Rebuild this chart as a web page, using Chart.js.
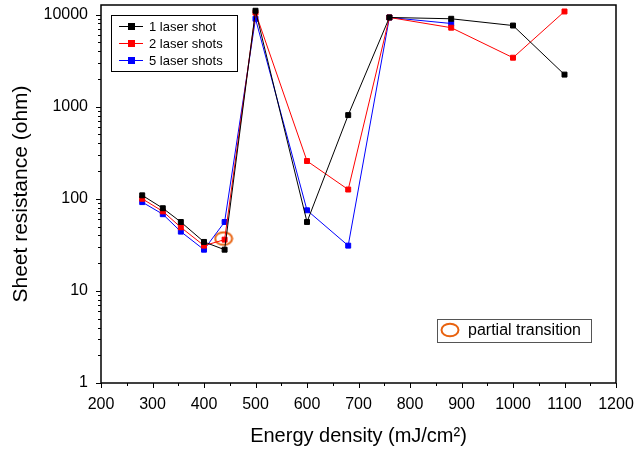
<!DOCTYPE html>
<html>
<head>
<meta charset="utf-8">
<script src="https://cdn.jsdelivr.net/npm/chart.js@4/dist/chart.umd.min.js"></script>
<style>
  html, body { margin: 0; padding: 0; background: #fff; }
  #wrap { width: 635px; height: 451px; }
</style>
</head>
<body>
<div id="wrap"><canvas id="chart"></canvas></div>
<script>
// energy density (mJ/cm²)
const energy = [280, 320, 355, 400, 440, 500, 600, 680, 760, 880, 1000, 1100];
// sheet resistance (ohm)
const shot1 = [109, 79, 56, 34, 28, 11000, 56, 810, 9300, 9000, 7600, 2230];
const shot2 = [100, 73, 49, 31, 36, 10500, 257, 126, 9300, 7200, 3400, 10800];
const shot5 = [92, 68, 44, 28, 56, 9000, 75, 31, 9300, 8000];
const partialX = [438];
const partialY = [37];
const yTicks = [1, 10, 100, 1000, 10000];

const FONT = 'Liberation Sans, Arial, sans-serif';

function pts(xs, ys) {
  return ys.map((v, i) => ({ x: xs[i], y: v }));
}

// hollow orange ellipse used for the "partial transition" mark
function ellipseImg() {
  const c = document.createElement('canvas');
  c.width = 20; c.height = 16;
  const g = c.getContext('2d');
  g.strokeStyle = '#e8620f';
  g.lineWidth = 2;
  g.beginPath();
  g.ellipse(10, 8, 8.5, 6.3, 0, 0, Math.PI * 2);
  g.stroke();
  return c;
}
const ell = ellipseImg();

// frame, tick marks and the two boxed legends
const decor = {
  id: 'decor',
  afterDraw(chart) {
    const { ctx, chartArea: a, scales } = chart;
    const xs = scales.x, ys = scales.y;
    ctx.save();
    ctx.strokeStyle = '#000';
    ctx.lineWidth = 1.5;
    ctx.strokeRect(a.left, a.top, a.right - a.left, a.bottom - a.top);

    ctx.lineWidth = 1;
    ctx.beginPath();
    for (let v = 200; v <= 1200; v += 50) {
      const px = Math.round(xs.getPixelForValue(v)) + 0.5;
      const len = v % 100 === 0 ? 5 : 3;
      ctx.moveTo(px, a.bottom);
      ctx.lineTo(px, a.bottom + len);
    }
    for (let d = 1; d <= 10000; d *= 10) {
      for (let m = 1; m <= 9; m++) {
        const v = d * m;
        if (v > 10000 && m > 1) break;
        const py = Math.round(ys.getPixelForValue(v)) + 0.5;
        const len = m === 1 ? 5 : 3;
        ctx.moveTo(a.left, py);
        ctx.lineTo(a.left - len, py);
      }
    }
    ctx.stroke();

    // series legend
    const lx = 111, ly = 15, lw = 126, lh = 56;
    ctx.fillStyle = '#fff';
    ctx.fillRect(lx, ly, lw, lh);
    ctx.lineWidth = 1;
    ctx.strokeStyle = '#000';
    ctx.strokeRect(lx + 0.5, ly + 0.5, lw, lh);
    const items = [['1 laser shot', '#000'], ['2 laser shots', '#ff0000'], ['5 laser shots', '#0000ff']];
    ctx.font = '13px ' + FONT;
    ctx.textBaseline = 'middle';
    items.forEach((it, i) => {
      const y = ly + 11 + i * 17;
      ctx.strokeStyle = it[1];
      ctx.beginPath();
      ctx.moveTo(lx + 8, y + 0.5);
      ctx.lineTo(lx + 32, y + 0.5);
      ctx.stroke();
      ctx.fillStyle = it[1];
      ctx.fillRect(lx + 17, y - 3, 7, 7);
      ctx.fillStyle = '#000';
      ctx.fillText(it[0], lx + 38, y + 1);
    });

    // partial transition legend
    const bx = 437, by = 319, bw = 154, bh = 23;
    ctx.fillStyle = '#fff';
    ctx.fillRect(bx, by, bw, bh);
    ctx.strokeStyle = '#555';
    ctx.strokeRect(bx + 0.5, by + 0.5, bw, bh);
    ctx.drawImage(ell, bx + 3, by + 3);
    ctx.fillStyle = '#000';
    ctx.font = '16px ' + FONT;
    ctx.fillText('partial transition', bx + 31, by + 12);
    ctx.restore();
  }
};

const lineDs = (label, ys, color) => ({
  label,
  data: pts(energy, ys),
  borderColor: color,
  backgroundColor: color,
  borderWidth: 1,
  pointStyle: 'rect',
  pointRadius: 3.5,
  pointHoverRadius: 3.5,
  tension: 0
});

new Chart(document.getElementById('chart'), {
  type: 'line',
  data: {
    datasets: [
      lineDs('1 laser shot', shot1, '#000000'),
      lineDs('2 laser shots', shot2, '#ff0000'),
      lineDs('5 laser shots', shot5, '#0000ff'),
      {
        label: 'partial transition',
        data: pts(partialX, partialY),
        showLine: false,
        pointStyle: ell,
        pointRadius: 8
      }
    ]
  },
  options: {
    responsive: true,
    maintainAspectRatio: false,
    animation: false,
    layout: { autoPadding: false, padding: { left: 0, right: 19, top: 5, bottom: 0 } },
    plugins: { legend: { display: false }, tooltip: { enabled: false } },
    scales: {
      x: {
        type: 'linear',
        min: 200,
        max: 1200,
        grid: { display: false, drawTicks: false },
        border: { display: false },
        ticks: { stepSize: 100, color: '#000', padding: 12, maxRotation: 0, font: { family: FONT, size: 16 }, callback: v => String(v) },
        title: { display: true, text: 'Energy density (mJ/cm²)', color: '#000', font: { family: FONT, size: 20 }, padding: { top: 2, bottom: 3 } },
        afterFit(s) { s.height = 68; s.paddingLeft = 0; s.paddingRight = 0; }
      },
      y: {
        type: 'logarithmic',
        min: 1,
        max: 12700,
        grid: { display: false, drawTicks: false },
        border: { display: false },
        afterBuildTicks(s) { s.ticks = yTicks.map(v => ({ value: v })); },
        ticks: { color: '#000', padding: 13, font: { family: FONT, size: 16 }, callback: v => String(v) },
        title: { display: true, text: 'Sheet resistance (ohm)', color: '#000', font: { family: FONT, size: 21 }, padding: { top: 9, bottom: 2 } },
        afterFit(s) { s.width = 101; s.paddingTop = 0; s.paddingBottom = 0; }
      }
    }
  },
  plugins: [decor]
});
</script>
</body>
</html>
